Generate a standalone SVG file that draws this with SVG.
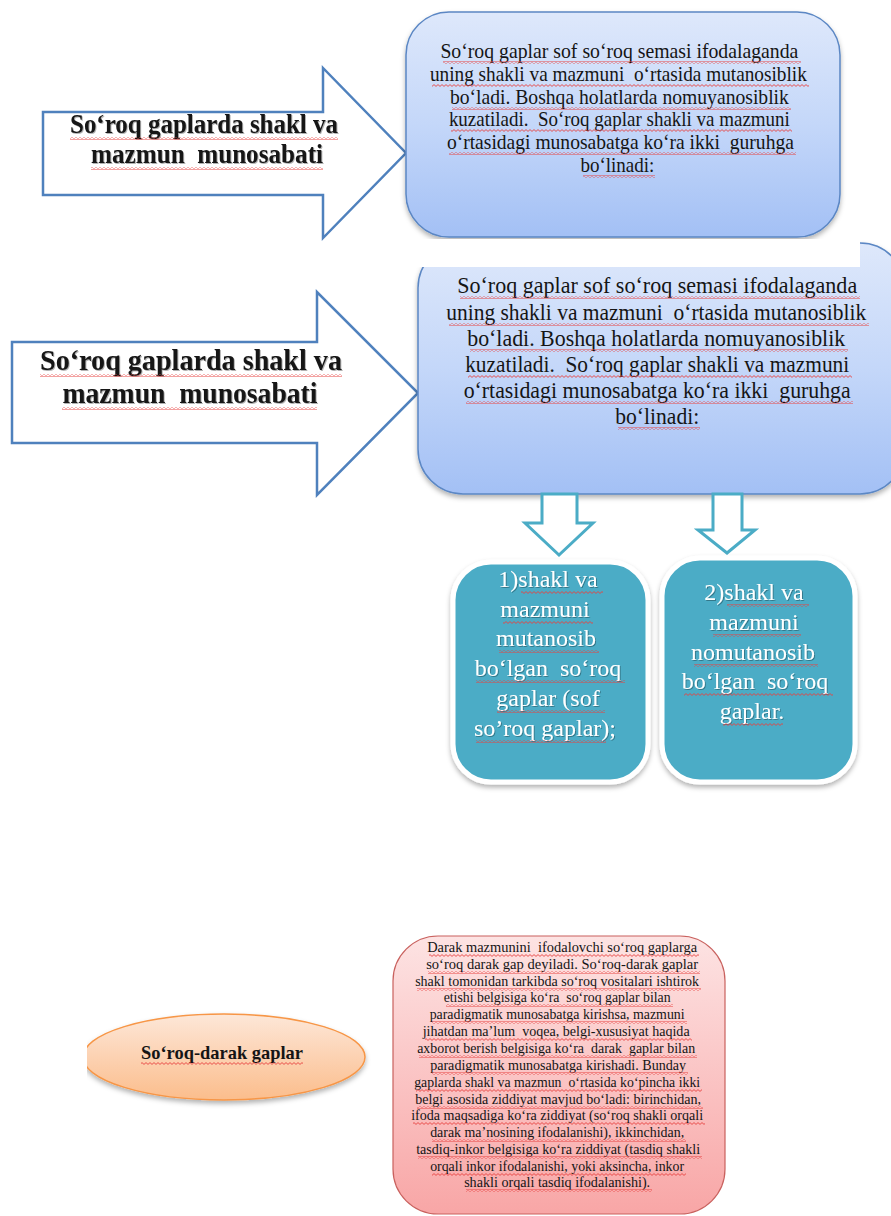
<svg xmlns="http://www.w3.org/2000/svg" width="891" height="1216" viewBox="0 0 891 1216">
<style>
text{white-space:pre}
.ser{font-family:"Liberation Serif","Times New Roman",serif;fill:#151515}
.b{font-weight:bold}
.wt{font-family:"Liberation Serif","Times New Roman",serif;fill:#ffffff;font-size:24px}
.blk{fill:#ffffff;stroke:#4f81bd;stroke-width:2.5;stroke-linejoin:miter}
.bbox{fill:url(#gBlue);stroke:#5b87c4;stroke-width:1.5}
.tbox{fill:#4bacc6;stroke:#ffffff;stroke-width:5}
.darr{fill:#ffffff;stroke:#4bacc6;stroke-width:3;stroke-linejoin:miter}
.w{fill:url(#wave);height:3px}
</style>
<defs>
<linearGradient id="gBlue" x1="0" y1="0" x2="0" y2="1">
<stop offset="0" stop-color="#dee8fb"/><stop offset="0.5" stop-color="#c4d7f9"/><stop offset="1" stop-color="#a3c0f5"/>
</linearGradient>
<linearGradient id="gPink" x1="0" y1="0" x2="0" y2="1">
<stop offset="0" stop-color="#fde3e3"/><stop offset="1" stop-color="#f8a6a6"/>
</linearGradient>
<linearGradient id="gOr" x1="0" y1="0" x2="0" y2="1">
<stop offset="0" stop-color="#fde7d8"/><stop offset="1" stop-color="#fbbd8c"/>
</linearGradient>
<pattern id="wave" patternUnits="userSpaceOnUse" width="4" height="3">
<path d="M0,2.4 L2,0.6 L4,2.4" fill="none" stroke="#e8413f" stroke-width="0.9"/>
</pattern>
<filter id="sh" x="-10%" y="-10%" width="120%" height="125%">
<feDropShadow dx="0" dy="3" stdDeviation="2.5" flood-color="#000" flood-opacity="0.3"/>
</filter>
<filter id="tsh" x="-5%" y="-5%" width="110%" height="120%">
<feDropShadow dx="1" dy="1" stdDeviation="0.6" flood-color="#000" flood-opacity="0.3"/>
</filter>
<clipPath id="ellClip"><rect x="87" y="1000" width="300" height="120"/></clipPath>
</defs>

<g id="arrow1">
<polygon class="blk" points="43,112 323,112 323,68 406,153 323,238 323,195 43,195"/>
<text class="ser b" font-size="26.5" text-anchor="middle" filter="url(#tsh)"><tspan x="204" y="133" textLength="268" lengthAdjust="spacingAndGlyphs">So‘roq gaplarda shakl va</tspan><tspan x="207" y="163" textLength="232" lengthAdjust="spacingAndGlyphs">mazmun  munosabati</tspan></text>
<rect class="w" x="70" y="137" width="268" height="3"/>
<rect class="w" x="91" y="167" width="232" height="3"/>
</g>

<g id="box1">
<rect class="bbox" x="406" y="12" width="434" height="225" rx="43" filter="url(#sh)"/>
<text class="ser" font-size="21" text-anchor="middle">
<tspan x="622" y="58" textLength="358" lengthAdjust="spacingAndGlyphs">So‘roq gaplar sof so‘roq semasi ifodalaganda</tspan>
<tspan x="621" y="81" textLength="377" lengthAdjust="spacingAndGlyphs">uning shakli va mazmuni  o‘rtasida mutanosiblik</tspan>
<tspan x="622" y="104" textLength="339" lengthAdjust="spacingAndGlyphs">bo‘ladi. Boshqa holatlarda nomuyanosiblik</tspan>
<tspan x="622" y="126" textLength="341" lengthAdjust="spacingAndGlyphs">kuzatiladi.  So‘roq gaplar shakli va mazmuni</tspan>
<tspan x="623" y="149" textLength="347" lengthAdjust="spacingAndGlyphs">o‘rtasidagi munosabatga ko‘ra ikki  guruhga</tspan>
<tspan x="620" y="172" textLength="74" lengthAdjust="spacingAndGlyphs">bo‘linadi:</tspan>
</text>
<rect class="w" x="443" y="61" width="358" height="3"/>
<rect class="w" x="432" y="84" width="377" height="3"/>
<rect class="w" x="452" y="107" width="339" height="3"/>
<rect class="w" x="451" y="129" width="341" height="3"/>
<rect class="w" x="449" y="152" width="347" height="3"/>
<rect class="w" x="583" y="175" width="72" height="3"/>
</g>

<g id="arrow2">
<polygon class="blk" points="12,342 317,342 317,292 418,393 317,495 317,443 12,443"/>
<text class="ser b" font-size="29.5" text-anchor="middle" filter="url(#tsh)"><tspan x="191" y="370" textLength="302" lengthAdjust="spacingAndGlyphs">So‘roq gaplarda shakl va</tspan><tspan x="190" y="403" textLength="255" lengthAdjust="spacingAndGlyphs">mazmun  munosabati</tspan></text>
<rect class="w" x="40" y="374" width="302" height="3"/>
<rect class="w" x="62" y="407" width="255" height="3"/>
</g>

<g id="box2">
<rect class="bbox" x="418" y="243" width="487" height="251" rx="45" filter="url(#sh)"/>
<rect x="400" y="239" width="460" height="28" fill="#ffffff"/>
<text class="ser" font-size="22.5" text-anchor="middle">
<tspan x="660" y="293" textLength="400" lengthAdjust="spacingAndGlyphs">So‘roq gaplar sof so‘roq semasi ifodalaganda</tspan>
<tspan x="659" y="320" textLength="420" lengthAdjust="spacingAndGlyphs">uning shakli va mazmuni  o‘rtasida mutanosiblik</tspan>
<tspan x="659" y="346" textLength="378" lengthAdjust="spacingAndGlyphs">bo‘ladi. Boshqa holatlarda nomuyanosiblik</tspan>
<tspan x="660" y="372" textLength="384" lengthAdjust="spacingAndGlyphs">kuzatiladi.  So‘roq gaplar shakli va mazmuni</tspan>
<tspan x="660" y="398" textLength="387" lengthAdjust="spacingAndGlyphs">o‘rtasidagi munosabatga ko‘ra ikki  guruhga</tspan>
<tspan x="660" y="424" textLength="84" lengthAdjust="spacingAndGlyphs">bo‘linadi:</tspan>
</text>
<rect class="w" x="460" y="296" width="400" height="3"/>
<rect class="w" x="449" y="323" width="420" height="3"/>
<rect class="w" x="470" y="349" width="378" height="3"/>
<rect class="w" x="468" y="375" width="384" height="3"/>
<rect class="w" x="466" y="401" width="387" height="3"/>
<rect class="w" x="618" y="427" width="82" height="3"/>
</g>

<g id="connectors">
<polygon class="darr" points="542,494 577,494 577,523 593,523 559,555 525,523 542,523"/>
<polygon class="darr" points="713,494 742,494 742,530 755,530 727,553 698,530 713,530"/>
</g>

<g id="group1">
<rect class="tbox" x="453" y="562" width="195" height="220" rx="38" filter="url(#sh)"/>
<text class="wt" text-anchor="middle" filter="url(#tsh)">
<tspan x="551" y="587">1)shakl va</tspan>
<tspan x="548" y="617">mazmuni</tspan>
<tspan x="549" y="646">mutanosib</tspan>
<tspan x="551" y="676">bo‘lgan  so‘roq</tspan>
<tspan x="551" y="706">gaplar (sof</tspan>
<tspan x="548" y="736">so’roq gaplar);</tspan>
</text>
<rect class="w" x="521" y="591" width="82" height="3"/>
<rect class="w" x="503" y="621" width="90" height="3"/>
<rect class="w" x="499" y="650" width="100" height="3"/>
<rect class="w" x="476" y="680" width="149" height="3"/>
<rect class="w" x="497" y="710" width="108" height="3"/>
<rect class="w" x="476" y="740" width="130" height="3"/>
</g>

<g id="group2">
<rect class="tbox" x="662" y="558" width="193" height="224" rx="38" filter="url(#sh)"/>
<text class="wt" text-anchor="middle" filter="url(#tsh)">
<tspan x="757" y="600">2)shakl va</tspan>
<tspan x="757" y="630">mazmuni</tspan>
<tspan x="756" y="660">nomutanosib</tspan>
<tspan x="758" y="689">bo‘lgan  so‘roq</tspan>
<tspan x="755" y="719">gaplar.</tspan>
</text>
<rect class="w" x="727" y="604" width="82" height="3"/>
<rect class="w" x="713" y="634" width="88" height="3"/>
<rect class="w" x="694" y="664" width="124" height="3"/>
<rect class="w" x="684" y="693" width="149" height="3"/>
<rect class="w" x="723" y="723" width="60" height="3"/>
</g>

<g id="ellipse-node">
<g clip-path="url(#ellClip)">
<ellipse cx="224" cy="1057" rx="141" ry="43" fill="url(#gOr)" stroke="#f79646" stroke-width="1.5" filter="url(#sh)"/>
</g>
<text class="ser b" font-size="19.5" text-anchor="middle" x="222" y="1059" textLength="162" lengthAdjust="spacingAndGlyphs">So‘roq-darak gaplar</text>
<rect class="w" x="141" y="1062" width="162" height="3"/>
</g>

<g id="pink-box">
<rect x="393" y="936" width="332" height="278" rx="45" fill="url(#gPink)" stroke="#c9615e" stroke-width="1.2"/>
<text class="ser" font-size="15" text-anchor="middle">
<tspan x="564" y="952" textLength="270" lengthAdjust="spacingAndGlyphs">Darak mazmunini  ifodalovchi so‘roq gaplarga</tspan>
<tspan x="564" y="969" textLength="272" lengthAdjust="spacingAndGlyphs">so‘roq darak gap deyiladi. So‘roq-darak gaplar</tspan>
<tspan x="559" y="986" textLength="284" lengthAdjust="spacingAndGlyphs">shakl tomonidan tarkibda so‘roq vositalari ishtirok</tspan>
<tspan x="559" y="1002" textLength="227" lengthAdjust="spacingAndGlyphs">etishi belgisiga ko‘ra  so‘roq gaplar bilan</tspan>
<tspan x="559" y="1019" textLength="255" lengthAdjust="spacingAndGlyphs">paradigmatik munosabatga kirishsa, mazmuni</tspan>
<tspan x="558" y="1036" textLength="267" lengthAdjust="spacingAndGlyphs">jihatdan ma’lum  voqea, belgi-xususiyat haqida</tspan>
<tspan x="558" y="1053" textLength="278" lengthAdjust="spacingAndGlyphs">axborot berish belgisiga ko‘ra  darak  gaplar bilan</tspan>
<tspan x="560" y="1070" textLength="256" lengthAdjust="spacingAndGlyphs">paradigmatik munosabatga kirishadi. Bunday</tspan>
<tspan x="559" y="1087" textLength="286" lengthAdjust="spacingAndGlyphs">gaplarda shakl va mazmun  o‘rtasida ko‘pincha ikki</tspan>
<tspan x="560" y="1104" textLength="286" lengthAdjust="spacingAndGlyphs">belgi asosida ziddiyat mavjud bo‘ladi: birinchidan,</tspan>
<tspan x="559" y="1120" textLength="292" lengthAdjust="spacingAndGlyphs">ifoda maqsadiga ko‘ra ziddiyat (so‘roq shakli orqali</tspan>
<tspan x="559" y="1137" textLength="254" lengthAdjust="spacingAndGlyphs">darak ma’nosining ifodalanishi), ikkinchidan,</tspan>
<tspan x="560" y="1154" textLength="284" lengthAdjust="spacingAndGlyphs">tasdiq-inkor belgisiga ko‘ra ziddiyat (tasdiq shakli</tspan>
<tspan x="559" y="1171" textLength="254" lengthAdjust="spacingAndGlyphs">orqali inkor ifodalanishi, yoki aksincha, inkor</tspan>
<tspan x="559" y="1187" textLength="186" lengthAdjust="spacingAndGlyphs">shakli orqali tasdiq ifodalanishi).</tspan>
</text>
<rect class="w" x="429" y="954" width="270" height="3"/>
<rect class="w" x="428" y="971" width="272" height="3"/>
<rect class="w" x="417" y="988" width="284" height="3"/>
<rect class="w" x="446" y="1004" width="227" height="3"/>
<rect class="w" x="432" y="1021" width="255" height="3"/>
<rect class="w" x="425" y="1038" width="267" height="3"/>
<rect class="w" x="419" y="1055" width="278" height="3"/>
<rect class="w" x="432" y="1072" width="256" height="3"/>
<rect class="w" x="416" y="1089" width="286" height="3"/>
<rect class="w" x="417" y="1106" width="286" height="3"/>
<rect class="w" x="413" y="1122" width="292" height="3"/>
<rect class="w" x="432" y="1139" width="254" height="3"/>
<rect class="w" x="418" y="1156" width="284" height="3"/>
<rect class="w" x="432" y="1173" width="254" height="3"/>
<rect class="w" x="466" y="1189" width="186" height="3"/>
</g>
</svg>
